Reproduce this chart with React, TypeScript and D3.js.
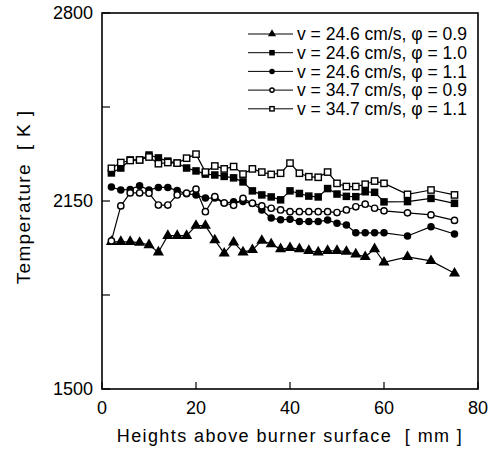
import React from 'react';
import * as d3 from 'd3';

// measurement heights [mm]
const heights = [2, 4, 6, 8, 10, 12, 14, 16, 18, 20, 22, 24, 26, 28, 30, 32, 34, 36, 38, 40,
  42, 44, 46, 48, 50, 52, 54, 56, 58, 60, 65, 70, 75];

// temperatures [K]
const v246phi09 = [2009, 2009, 2009, 2006, 1998, 1973, 2030, 2030, 2030, 2065, 2065, 2015, 1969,
  2007, 1973, 1981, 2013, 2001, 1984, 1988, 1984, 1978, 1973, 1978, 1978, 1975, 1966, 1957, 1984,
  1938, 1957, 1943, 1900];
const v246phi10 = [2247, 2264, 2292, 2292, 2309, 2299, 2288, 2281, 2264, 2254, 2243, 2240, 2235,
  2230, 2216, 2185, 2171, 2164, 2154, 2185, 2176, 2167, 2164, 2193, 2174, 2166, 2165, 2182, 2180,
  2147, 2148, 2159, 2142];
const v246phi11 = [2198, 2188, 2190, 2203, 2188, 2197, 2197, 2186, 2175, 2171, 2160, 2160, 2143,
  2147, 2148, 2142, 2119, 2091, 2085, 2087, 2079, 2079, 2079, 2084, 2073, 2067, 2040, 2040, 2040,
  2040, 2029, 2061, 2036];
const v347phi09 = [2012, 2133, 2178, 2178, 2177, 2136, 2136, 2171, 2177, 2191, 2113, 2165, 2143,
  2135, 2159, 2142, 2133, 2125, 2119, 2113, 2113, 2113, 2113, 2113, 2110, 2119, 2130, 2139, 2125,
  2116, 2109, 2102, 2083];
const v347phi11 = [2263, 2283, 2290, 2292, 2302, 2279, 2283, 2281, 2298, 2312, 2250, 2271, 2261,
  2269, 2243, 2261, 2250, 2242, 2246, 2281, 2246, 2234, 2232, 2250, 2211, 2200, 2200, 2208, 2219,
  2211, 2173, 2188, 2171];

const legendLabels = [
  'v = 24.6 cm/s, \u03c6 = 0.9',
  'v = 24.6 cm/s, \u03c6 = 1.0',
  'v = 24.6 cm/s, \u03c6 = 1.1',
  'v = 34.7 cm/s, \u03c6 = 0.9',
  'v = 34.7 cm/s, \u03c6 = 1.1',
];
const markers = ['triangle', 'square', 'circle', 'circleOpen', 'squareOpen'];
const seriesValues = [v246phi09, v246phi10, v246phi11, v347phi09, v347phi11];

const yTicks = [1500, 1825, 2150, 2475, 2800];
const yTickLabels = [1500, 2150, 2800];
const xTicks = [0, 20, 40, 60, 80];

const W = 493;
const H = 455;
const left = 102, right = 478, top = 13, bottom = 389;
const font = '"Liberation Sans", Arial, Helvetica, sans-serif';

function Marker({ type, x, y, s }: { type: string; x: number; y: number; s: number }) {
  if (type === 'triangle') {
    const path = d3.symbol(d3.symbolTriangle, s * s * 0.95)();
    return <path d={path || ''} transform={`translate(${x},${y})`} fill="#000" />;
  }
  if (type === 'square') {
    return <rect x={x - s / 2} y={y - s / 2} width={s} height={s} fill="#000" />;
  }
  if (type === 'squareOpen') {
    return <rect x={x - s / 2 + 0.6} y={y - s / 2 + 0.6} width={s - 1.2} height={s - 1.2} fill="#fff" stroke="#000" strokeWidth={1.4} />;
  }
  if (type === 'circle') {
    return <circle cx={x} cy={y} r={s / 2} fill="#000" />;
  }
  return <circle cx={x} cy={y} r={s / 2 - 0.6} fill="#fff" stroke="#000" strokeWidth={1.4} />;
}

export default function App() {
  const x = d3.scaleLinear().domain([0, 80]).range([left, right]);
  const y = d3.scaleLinear().domain([1500, 2800]).range([bottom, top]);
  const line = d3.line<number>()
    .x((_, i) => x(heights[i]))
    .y(d => y(d));

  const legendY0 = 34;
  const legendStep = 18.7;

  return (
    <svg width={W} height={H} style={{ position: 'absolute', left: 0, top: 0, background: '#fff' }}
      fontFamily={font}>
      <rect x={0} y={0} width={W} height={H} fill="#fff" />
      {/* series */}
      {seriesValues.map((vals, si) => (
        <g key={si}>
          <path d={line(vals) || ''} fill="none" stroke="#000" strokeWidth={1.2} />
          {vals.map((v, i) => (
            <Marker key={i} type={markers[si]} x={x(heights[i])} y={y(v)} s={7.5} />
          ))}
        </g>
      ))}
      {/* frame */}
      <rect x={left} y={top} width={right - left} height={bottom - top} fill="none" stroke="#000" strokeWidth={1.6} />
      {/* y ticks */}
      {yTicks.map(t => (
        <line key={t} x1={left} x2={left + 8} y1={y(t)} y2={y(t)} stroke="#000" strokeWidth={1.2} />
      ))}
      {yTickLabels.map(t => (
        <text key={t} x={left - 9} y={y(t)} dy="0.36em" textAnchor="end" fontSize={18}>{t}</text>
      ))}
      {/* x ticks */}
      {xTicks.map(t => (
        <g key={t}>
          <line x1={x(t)} x2={x(t)} y1={bottom} y2={bottom - 7} stroke="#000" strokeWidth={1.2} />
          <text x={x(t)} y={bottom + 19} dy="0.36em" textAnchor="middle" fontSize={18}>{t}</text>
        </g>
      ))}
      {/* axis titles */}
      <text x={(left + right) / 2} y={436} dy="0.36em" textAnchor="middle" fontSize={18}
        letterSpacing={1.4} style={{ whiteSpace: 'pre' }}>{'Heights above burner surface  [ mm ]'}</text>
      <text transform={`translate(23,197) rotate(-90)`} textAnchor="middle" dy="0.36em"
        fontSize={19} letterSpacing={1.3} style={{ whiteSpace: 'pre' }}>{'Temperature  [ K ]'}</text>
      {/* legend */}
      {legendLabels.map((lab, i) => {
        const ly = legendY0 + i * legendStep;
        return (
          <g key={i}>
            <line x1={248} x2={293} y1={ly} y2={ly} stroke="#000" strokeWidth={1} />
            <Marker type={markers[i]} x={272} y={ly} s={5.5} />
            <text x={297} y={ly} dy="0.36em" fontSize={17.5}>{lab}</text>
          </g>
        );
      })}
    </svg>
  );
}
